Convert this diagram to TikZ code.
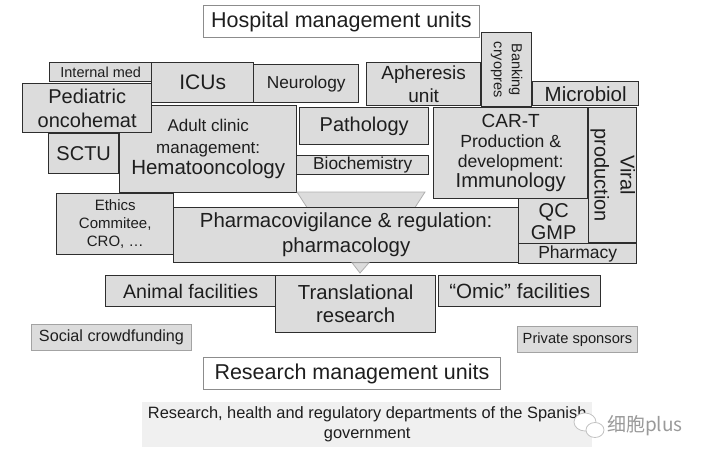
\documentclass[tikz,border=0pt]{standalone}
\usepackage{fontspec}
\setmainfont{Liberation Sans}
\newfontfamily\cjkfont{Noto Sans CJK SC}
\usetikzlibrary{calc}
\definecolor{boxfill}{HTML}{DCDCDC}
\definecolor{boxline}{HTML}{2E2E2E}
\definecolor{txt}{HTML}{1E1E1E}
\definecolor{lightline}{HTML}{8C8C8C}
\definecolor{govfill}{HTML}{F0F0F0}
\definecolor{wmark}{HTML}{9A9A9A}
\newcommand\fs[2]{\fontsize{#1}{#2}\selectfont}
\begin{document}
\begin{tikzpicture}[x=1pt,y=-1pt,
  unitbox/.style={draw=boxline, fill=boxfill, line width=1.4pt, inner sep=0pt, align=center, text=txt, anchor=north west},
  headbox/.style={draw=lightline, fill=white, line width=0.9pt, inner sep=0pt, align=center, text=txt, anchor=north west},
  fundbox/.style={draw=lightline!80, fill=boxfill, line width=0.9pt, inner sep=0pt, align=center, text=txt, anchor=north west},
  govbox/.style={fill=govfill, inner sep=0pt, align=center, text=txt, anchor=north west},
  rottext/.style={rotate=-90, align=center, text=txt, inner sep=0pt},
  funnel/.style={fill=boxfill, draw=lightline!70, line width=0.8pt}]
\useasboundingbox (0,0) rectangle (701,458);
% headers
\node[headbox, minimum width=276, minimum height=32, font=\fs{21.5}{24}] (hosp) at (203,5) {Hospital management units};
% top row
\node[unitbox, minimum width=102, minimum height=19, font=\fs{14.5}{16}] (intmed) at (49,62) {Internal med};
\node[unitbox, minimum width=102, minimum height=40, font=\fs{21}{24}] (icus) at (151,62) {ICUs};
\node[unitbox, minimum width=105, minimum height=38, font=\fs{17.3}{20}] (neuro) at (253,64) {Neurology};
\node[unitbox, minimum width=114, minimum height=43, font=\fs{19}{23}] (apher) at (366,62) {Apheresis\\unit};
\node[unitbox, minimum width=50, minimum height=74] (bank) at (481,32) {};
\node[rottext, font=\fs{14.5}{18}] (banktxt) at (bank.center) {Banking\\cryopres};
\node[unitbox, minimum width=106, minimum height=24, font=\fs{20.5}{23}] (micro) at (532,81) {Microbiol};
% middle
\node[unitbox, minimum width=177, minimum height=87, font=\fs{17}{21.5}] (adult) at (119,105) {Adult clinic\\management:\\\fs{20.5}{21.5}Hematooncology};
\node[unitbox, minimum width=129, minimum height=49, font=\fs{20}{24}] (ped) at (22,83) {Pediatric\\oncohemat};
\node[unitbox, minimum width=70, minimum height=40, font=\fs{20}{24}] (sctu) at (48,133) {SCTU};
\node[unitbox, minimum width=129, minimum height=37, font=\fs{20}{24}] (patho) at (299,107) {Pathology};
\node[unitbox, minimum width=132, minimum height=19, font=\fs{17.3}{19}] (bioch) at (296,155) {Biochemistry};
\node[unitbox, minimum width=154, minimum height=91, font=\fs{17.6}{20}] (cart) at (433,107) {\fs{19}{20}CAR-T\\Production \&\\development:\\\fs{20.2}{20}Immunology};
\node[unitbox, minimum width=48, minimum height=135] (viral) at (588,107) {};
\node[rottext, font=\fs{20}{26}] (viraltxt) at (viral.center) {Viral\\production};
\node[unitbox, minimum width=70, minimum height=45, font=\fs{20}{22}] (qc) at (518,198) {QC\\GMP};
\node[unitbox, minimum width=118, minimum height=20, font=\fs{17.5}{20}] (pharmacy) at (518,243) {Pharmacy};
% funnel
\draw[funnel] (297,192) -- (425,192) -- (415,207.5) -- (307,207.5) -- cycle;
\node[unitbox, minimum width=345, minimum height=55, font=\fs{20.4}{25}] (pv) at (173,207) {Pharmacovigilance \& regulation:\\pharmacology};
\node[unitbox, minimum width=117, minimum height=61, font=\fs{15}{18}] (ethics) at (56,193) {Ethics\\Commitee,\\CRO, \ldots};
\draw[funnel] (352,262.7) -- (369,262.7) -- (360,273) -- cycle;
% research row
\node[unitbox, minimum width=170, minimum height=31, font=\fs{19.6}{23}] (animal) at (105,275) {Animal facilities};
\node[unitbox, minimum width=160, minimum height=57, font=\fs{20.3}{23}] (trans) at (275,275) {Translational\\research};
\node[unitbox, minimum width=162, minimum height=31, font=\fs{20.6}{23}] (omic) at (438,275) {“Omic” facilities};
\node[fundbox, minimum width=160, minimum height=26, font=\fs{16.2}{19}] (social) at (31,324) {Social crowdfunding};
\node[fundbox, minimum width=120, minimum height=26, font=\fs{14.7}{17}] (private) at (517,326) {Private sponsors};
\node[headbox, minimum width=297, minimum height=32, font=\fs{21.5}{24}] (research) at (203,357) {Research management units};
\node[govbox, minimum width=450, minimum height=45, font=\fs{16.4}{20}] (gov) at (142,402) {Research, health and regulatory departments of the Spanish\\government};
% watermark
\draw[wmark!60, fill=white, line width=0.8pt] (585,422) ellipse [x radius=11, y radius=9];
\draw[wmark!60, fill=white, line width=0.8pt] (595,430) ellipse [x radius=9, y radius=7.5];
\node[text=wmark, font=\cjkfont\fs{19}{22}, inner sep=0pt] (wm) at (645,426) {细胞plus};
\end{tikzpicture}
\end{document}
